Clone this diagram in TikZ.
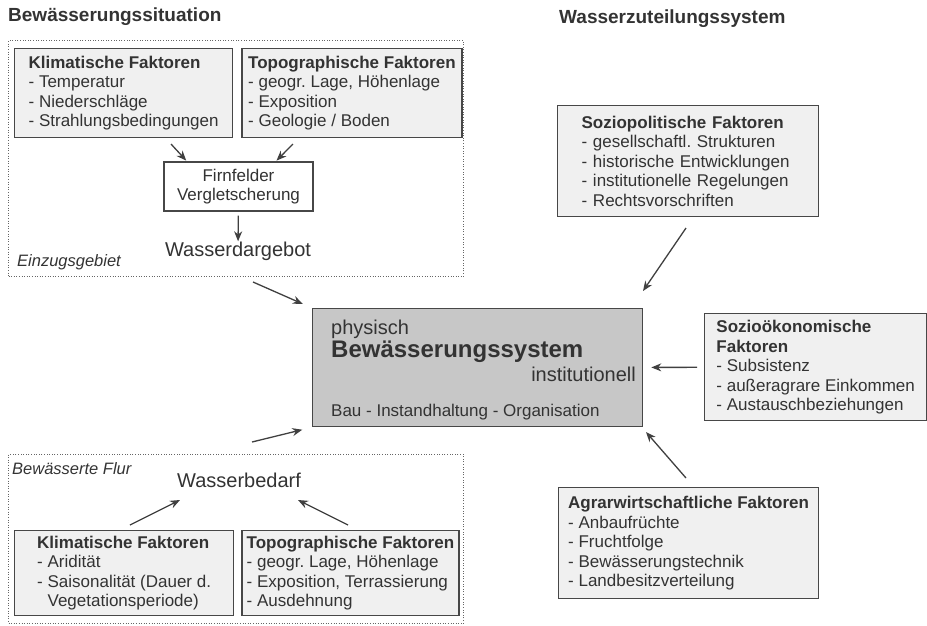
\documentclass[tikz,border=0pt]{standalone}
\usepackage{fontspec}
\setmainfont{Liberation Sans}
\frenchspacing
\usetikzlibrary{positioning,arrows.meta}
\begin{document}
\begin{tikzpicture}[x=1pt, y=-1pt,
	every node/.style = {text=black!80},
	titel/.style = {font=\bfseries\fontsize{19}{22}\selectfont, anchor=base west, inner sep=0pt},
	faktor/.style = {draw=black!72, line width=1.3pt, fill=black!6, align=left, font=\fontsize{17}{19.5}\selectfont},
	kasten/.style = {draw=black!72, line width=1.3pt, fill=white, align=center, font=\fontsize{17}{19.5}\selectfont},
	haupt/.style = {draw=black!72, line width=1.3pt, fill=black!22},
	gebiet/.style = {draw=black!60, line width=1pt, dash pattern=on 1pt off 1.6pt, anchor=north west, inner sep=0pt},
	notiz/.style = {font=\itshape\fontsize{16.5}{19}\selectfont, anchor=base west, inner sep=0pt},
	gross/.style = {font=\fontsize{20}{23}\selectfont, anchor=base, inner sep=0pt},
	pfeil/.style = {draw=black!75, line width=1.3pt, -{Stealth[length=10pt, width=8pt]}}]
	\useasboundingbox (0,0) rectangle (927,625);
	\node[titel] (situation) at (8,21) {Bewässerungssituation};
	\node[titel] (zuteilung) at (559,23) {Wasserzuteilungssystem};
	\node[gebiet, minimum width=455pt, minimum height=236pt] (einzug) at (8,40) {};
	\node[faktor, anchor=north west, minimum width=218pt, minimum height=89pt] (klimo) at (14,48) {\textbf{Klimatische Faktoren}\\- Temperatur\\- Niederschläge\\- Strahlungsbedingungen};
	\node[faktor, minimum width=220pt, minimum height=89pt, right=8pt of klimo] (topoo) {\textbf{Topographische Faktoren}\\- geogr. Lage, Höhenlage\\- Exposition\\- Geologie / Boden};
	\node[kasten, minimum width=149pt, minimum height=49pt] (firn) at (238.5,186.5) {Firnfelder\\Vergletscherung};
	\node[gross] (angebot) at (238,256) {Wasserdargebot};
	\node[notiz] (einzugtxt) at (17,266) {Einzugsgebiet};
	\node[haupt, anchor=north west, minimum width=330pt, minimum height=118pt] (bws) at (312,308) {};
	\node[anchor=base west, inner sep=0pt, font=\fontsize{20}{23}\selectfont] (phys) at (331,334) {physisch};
	\node[anchor=base west, inner sep=0pt, font=\bfseries\fontsize{24}{28}\selectfont] (bwsname) at (331,357) {Bewässerungssystem};
	\node[anchor=base east, inner sep=0pt, font=\fontsize{20}{23}\selectfont] (inst) at (636,381) {institutionell};
	\node[anchor=base west, inner sep=0pt, font=\fontsize{17}{19.5}\selectfont] (bau) at (331,416) {Bau - Instandhaltung - Organisation};
	\node[faktor, anchor=north west, minimum height=111pt, text width=213pt, inner xsep=24pt] (sopo) at (557,105) {\textbf{Soziopolitische Faktoren}\\- gesellschaftl. Strukturen\\- historische Entwicklungen\\- institutionelle Regelungen\\- Rechtsvorschriften};
	\node[faktor, anchor=north west, minimum width=222pt, minimum height=107pt] (sook) at (704,313) {\textbf{Sozioökonomische}\\\textbf{Faktoren}\\- Subsistenz\\- außeragrare Einkommen\\- Austauschbeziehungen};
	\node[faktor, anchor=north west, minimum width=260pt, minimum height=111pt] (agrar) at (558,487) {\textbf{Agrarwirtschaftliche Faktoren}\\- Anbaufrüchte\\- Fruchtfolge\\- Bewässerungstechnik\\- Landbesitzverteilung};
	\node[gebiet, minimum width=455pt, minimum height=169pt] (flur) at (8,454) {};
	\node[notiz] (flurtxt) at (12,474) {Bewässerte Flur};
	\node[gross] (bedarf) at (239,487) {Wasserbedarf};
	\node[faktor, anchor=north west, minimum width=219pt, minimum height=85pt] (klimu) at (14,530) {\textbf{Klimatische Faktoren}\\- Aridität\\- Saisonalität (Dauer d.\\\phantom{- }Vegetationsperiode)};
	\node[faktor, minimum width=217pt, minimum height=85pt, right=7pt of klimu] (topou) {\textbf{Topographische Faktoren}\\- geogr. Lage, Höhenlage\\- Exposition, Terrassierung\\- Ausdehnung};
	\coordinate (k1) at (171,144);
	\coordinate (t1) at (293,144);
	\coordinate (e1) at (253,282);
	\coordinate (f1) at (252,442);
	\coordinate (s1) at (686,228);
	\coordinate (s2) at (643,291);
	\coordinate (g1) at (686,478);
	\coordinate (g2) at (646,432);
	\coordinate (k2) at (130,525);
	\coordinate (k3) at (180,500);
	\coordinate (t2) at (348,525);
	\coordinate (t3) at (298,500);
	\draw[pfeil, shorten >=1pt] (k1) -- (firn.154);
	\draw[pfeil, shorten >=1pt] (t1) -- (firn.34);
	\draw[pfeil, shorten <=4pt] (firn) -- (angebot);
	\draw[pfeil, shorten >=10pt] (e1) -- (bws.north west);
	\draw[pfeil, shorten >=10pt] (f1) -- (bws.south west);
	\draw[pfeil] (s1) -- (s2);
	\draw[pfeil, shorten <=7pt, shorten >=8pt] (sook) -- (bws);
	\draw[pfeil] (g1) -- (g2);
	\draw[pfeil] (k2) -- (k3);
	\draw[pfeil] (t2) -- (t3);
\end{tikzpicture}
\end{document}
